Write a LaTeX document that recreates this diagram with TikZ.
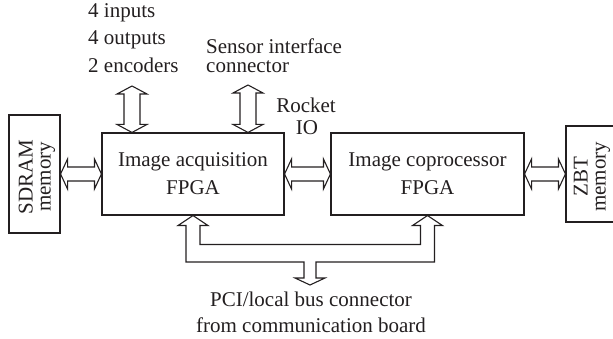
\documentclass[tikz,border=0pt]{standalone}
\usepackage{fontspec}
\setmainfont{Liberation Serif}
\usetikzlibrary{calc}
\definecolor{ink}{RGB}{35,31,32}
\newcommand\hdbl[2]{\draw[fat] let \p1=(#1), \p2=(#2) in (\p1) -- (\x1+7,\y1+15) -- (\x1+7,\y1+7) -- (\x2-7,\y1+7) -- (\x2-7,\y1+15) -- (\x2,\y1) -- (\x2-7,\y1-15) -- (\x2-7,\y1-7) -- (\x1+7,\y1-7) -- (\x1+7,\y1-15) -- cycle;}
\newcommand\vdbl[2]{\draw[fat] let \p1=(#1), \p2=(#2) in (\p1) -- (\x1+15,\y1-8) -- (\x1+8,\y1-8) -- (\x1+8,\y2+8) -- (\x1+15,\y2+8) -- (\x1,\y2) -- (\x1-15,\y2+8) -- (\x1-8,\y2+8) -- (\x1-8,\y1-8) -- (\x1-15,\y1-8) -- cycle;}
\begin{document}
\begin{tikzpicture}[x=1pt,y=1pt,
  every node/.style={text=ink},
  fat/.style={draw=ink,line width=1.1pt,line join=miter},
  fpga/.style={draw=ink,line width=1.1pt,inner sep=0pt,align=center,font=\fontsize{21}{28}\selectfont},
  membox/.style={draw=ink,line width=1.1pt,inner sep=0pt,minimum width=51pt},
  memtext/.style={rotate=90,inner sep=0pt,align=center,font=\fontsize{21}{18}\selectfont},
  lbl/.style={inner sep=0pt,font=\fontsize{21}{26}\selectfont}]
\useasboundingbox (0,0) rectangle (613,339);
% memory boxes
\node[membox,minimum height=118pt] (sdram) at (34.5,165) {};
\node[memtext] (sdramt) at (37,162) {SDRAM\\memory};
\node[membox,minimum width=54pt,minimum height=96pt] (zbt) at (593,165) {};
\node[memtext] (zbtt) at (592,162) {ZBT\\memory};
% FPGA boxes
\node[fpga,minimum width=182pt,minimum height=82pt] (acq) at (193,165) {Image acquisition\\FPGA};
\node[fpga,minimum width=193pt,minimum height=82pt] (cop) at (427.5,165) {Image coprocessor\\FPGA};
% horizontal double arrows
\hdbl{sdram.east}{acq.west}
\hdbl{acq.east}{cop.west}
\hdbl{cop.east}{zbt.west}
% top connectors
\coordinate (io) at (132,253);
\coordinate (sens) at (248,254);
\coordinate (ioin) at ($(acq.north west)+(30,0)$);
\coordinate (sensin) at ($(acq.north west)+(146,0)$);
\vdbl{io}{ioin}
\vdbl{sens}{sensin}
% PCI bus
\coordinate (pci) at (310,54);
\draw[fat] let \p1=(acq.south), \p2=(cop.south), \p3=(pci) in
  (\p1) -- (\x1+15,\y1-10) -- (\x1+7,\y1-10) -- (\x1+7,\y1-29) -- (\x2-7,\y1-29)
  -- (\x2-7,\y2-10) -- (\x2-15,\y2-10) -- (\p2) -- (\x2+15,\y2-10) -- (\x2+7,\y2-10)
  -- (\x2+7,\y3+23) -- (\x3+6,\y3+23) -- (\x3+6,\y3+7) -- (\x3+15,\y3+7) -- (\p3)
  -- (\x3-15,\y3+7) -- (\x3-6,\y3+7) -- (\x3-6,\y3+23) -- (\x1-7,\y3+23)
  -- (\x1-7,\y1-10) -- (\x1-15,\y1-10) -- cycle;
% labels
\node[lbl,anchor=base west] (l1) at (88,321) {4 inputs};
\node[lbl,anchor=base west] (l2) at (88,294) {4 outputs};
\node[lbl,anchor=base west] (l3) at (88,266) {2 encoders};
\node[lbl,anchor=base west] (s1) at (206,285) {Sensor interface};
\node[lbl,anchor=base west] (s2) at (206,266) {connector};
\node[lbl,anchor=base] (r1) at (306,226) {Rocket};
\node[lbl,anchor=base] (r2) at (307,204) {IO};
\node[lbl,anchor=base] (p1) at (311,32) {PCI/local bus connector};
\node[lbl,anchor=base] (p2) at (311,6) {from communication board};
\end{tikzpicture}
\end{document}
